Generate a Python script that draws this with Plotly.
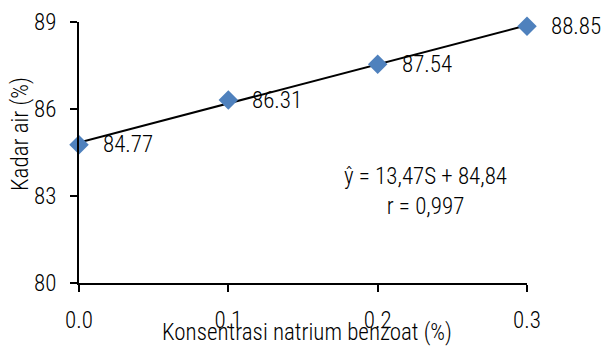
import numpy as np
import plotly.graph_objects as go

# Water content vs sodium benzoate concentration
konsentrasi = [0.0, 0.1, 0.2, 0.3]
kadar_air = [84.77, 86.31, 87.54, 88.85]
x_ticks = [0.0, 0.1, 0.2, 0.3]
x_ticktext = ["0.0", "0.1", "0.2", "0.3"]
y_ticks = [80, 83, 86, 89]
persamaan = "ŷ = 13,47S + 84,84"
korelasi = "r = 0,997"

FONT = dict(family="Roboto Condensed, Arial Narrow, sans-serif",
            size=23, color="black", weight=300)

W, H = 604, 347
ML, MR, MT, MB = 79, 77, 22, 64
PW, PH = W - ML - MR, H - MT - MB


def px_to_paper(px, py):
    """Convert page pixel position into paper coordinates."""
    return (px - ML) / PW, (H - MB - py) / PH


# linear trend line
slope, intercept = np.polyfit(konsentrasi, kadar_air, 1)
x_line = np.array([konsentrasi[0], konsentrasi[-1]])
y_line = slope * x_line + intercept

fig = go.Figure()
fig.add_trace(go.Scatter(
    x=x_line, y=y_line, mode="lines",
    line=dict(color="black", width=2),
    hoverinfo="skip", showlegend=False, cliponaxis=False,
))
fig.add_trace(go.Scatter(
    x=konsentrasi, y=kadar_air, mode="markers",
    marker=dict(symbol="diamond", size=15, color="#4F81BD",
                line=dict(width=0)),
    showlegend=False, cliponaxis=False,
))

for xv, yv in zip(konsentrasi, kadar_air):
    fig.add_annotation(
        x=xv, y=yv, text=f"{yv:.2f}", showarrow=False,
        xanchor="left", yanchor="middle", xshift=22, yshift=0,
        font=FONT,
    )

fig.add_annotation(
    x=0.2317, y=83.17, xref="x", yref="y",
    text=persamaan + "<br>" + korelasi, showarrow=False,
    xanchor="center", yanchor="middle", align="center",
    font=FONT,
)

# axis titles
tx, ty = px_to_paper(307, 332)
fig.add_annotation(
    x=tx, y=ty, xref="paper", yref="paper",
    text="Konsentrasi natrium benzoat (%)", showarrow=False,
    xanchor="center", yanchor="middle", font=FONT,
)
tx, ty = px_to_paper(20, 134)
fig.add_annotation(
    x=tx, y=ty, xref="paper", yref="paper",
    text="Kadar air (%)", showarrow=False, textangle=-90,
    xanchor="center", yanchor="middle", font=FONT,
)

fig.update_layout(
    width=W, height=H,
    margin=dict(l=ML, r=MR, t=MT, b=MB, autoexpand=False),
    paper_bgcolor="white", plot_bgcolor="white",
    font=FONT,
)

axis_style = dict(
    showline=True, linecolor="black", linewidth=2,
    ticks="outside", ticklen=7, tickcolor="black", tickwidth=1.5,
    showgrid=False, zeroline=False, automargin=False,
    tickfont=FONT,
)
fig.update_xaxes(
    range=[0, 0.3], tickvals=x_ticks, ticktext=x_ticktext,
    ticklabelstandoff=8, **axis_style,
)
fig.update_yaxes(
    range=[80, 89], tickvals=y_ticks,
    ticklabelstandoff=9, **axis_style,
)

fig.write_html("out.html")
